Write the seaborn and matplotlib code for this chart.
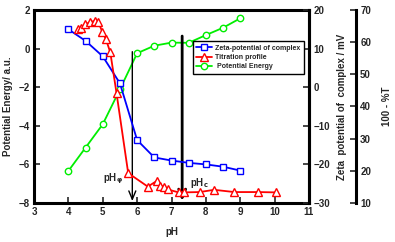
import matplotlib
matplotlib.use("Agg")
import matplotlib.pyplot as plt
import seaborn as sns
import pandas as pd

# ---- data ----
ph_grid = [4.0, 4.5, 5.0, 5.5, 6.0, 6.5, 7.0, 7.5, 8.0, 8.5, 9.0]
zeta_mv = [15.0, 12.0, 8.0, 1.0, -13.7, -18.2, -19.0, -19.6, -20.0, -20.6, -21.6]
energy_au = [-6.34, -5.13, -3.92, -2.11, -0.24, 0.15, 0.31, 0.30, 0.70, 1.08, 1.57]

ph_titr = [4.27, 4.37, 4.49, 4.63, 4.76, 4.87, 4.99, 5.09, 5.22, 5.40, 5.74,
           6.31, 6.58, 6.66, 6.78, 6.89, 7.21, 7.36, 7.82, 8.24, 8.83, 9.51, 10.04]
titr_T = [64.0, 64.4, 65.5, 66.2, 66.6, 66.3, 63.1, 61.0, 56.8, 44.2, 19.3,
          15.1, 16.9, 15.4, 15.1, 14.2, 13.3, 13.3, 13.4, 14.1, 13.4, 13.4, 13.3]

marker_ph = [5.86, 7.31]
marker_top = [-0.16, 0.65]
marker_labels = ["pH$_\\mathbf{\\varphi}$", "pH$_\\mathbf{c}$"]

x_ticks = [3, 4, 5, 6, 7, 8, 9, 10, 11]
left_ticks = [-8, -6, -4, -2, 0, 2]
zeta_ticks = [-30, -20, -10, 0, 10, 20]
t_ticks = [10, 20, 30, 40, 50, 60, 70]

sns.set_style("ticks")
plt.rcParams['font.family'] = ['Liberation Sans', 'DejaVu Sans']
plt.rcParams['font.weight'] = 'bold'
plt.rcParams['mathtext.default'] = 'bf'

W, H = 395, 242
fig = plt.figure(figsize=(W / 100, H / 100), dpi=100)
L, R, T, B = 34, 309, 10, 203
ax = fig.add_axes([L / W, 1 - B / H, (R - L) / W, (B - T) / H])
ax2 = ax.twinx()
ax3 = ax.twinx()

fs = 7
ms = 4.6
lw = 1.3
mew = 1.0

blue = '#0000ff'
red = '#ff0000'
green = '#00ee00'

df_g = pd.DataFrame({'pH': ph_grid, 'zeta': zeta_mv, 'energy': energy_au})
df_t = pd.DataFrame({'pH': ph_titr, 'T': titr_T})

sns.lineplot(data=df_g, x='pH', y='energy', ax=ax, color=green, marker='o',
             markersize=ms, markerfacecolor='white', markeredgecolor=green,
             markeredgewidth=mew, linewidth=lw, sort=False, legend=False)
sns.lineplot(data=df_g, x='pH', y='zeta', ax=ax2, color=blue, marker='s',
             markersize=ms, markerfacecolor='white', markeredgecolor=blue,
             markeredgewidth=mew, linewidth=lw, sort=False, legend=False)
sns.lineplot(data=df_t, x='pH', y='T', ax=ax3, color=red, marker='^',
             markersize=ms + 0.5, markerfacecolor='white', markeredgecolor=red,
             markeredgewidth=mew, linewidth=lw, sort=False, legend=False)

ax.set_xlim(3, 11)
ax.set_ylim(-8, 2)
ax2.set_ylim(-30, 20)
ax3.set_ylim(10, 70)

ax.set_xticks(x_ticks)
ax.set_yticks(left_ticks)
ax2.set_yticks(zeta_ticks)
ax3.set_yticks(t_ticks)

for a in (ax, ax2, ax3):
    for s in a.spines.values():
        s.set_linewidth(2.2)
        s.set_color('black')

ax.tick_params(axis='both', direction='in', length=4, width=1.2, labelsize=fs, pad=3)
ax2.tick_params(axis='y', direction='in', length=4, width=1.2, labelsize=fs, pad=3)
ax3.tick_params(axis='y', direction='in', length=4, width=1.2, labelsize=fs, pad=3)

ax3.spines['right'].set_position(('axes', 1 + 47 / (R - L)))
for side in ('left', 'top', 'bottom'):
    ax3.spines[side].set_visible(False)
    ax2.spines[side].set_visible(False)

ax.set_xlabel('pH', fontsize=fs, fontweight='bold', labelpad=7)
ax.set_ylabel('Potential Energy/ a.u.', fontsize=fs, fontweight='bold', labelpad=4)
ax2.set_ylabel('Zeta  potential of  complex / mV', fontsize=fs, fontweight='bold', labelpad=5)
ax3.set_ylabel('100 - %T', fontsize=fs, fontweight='bold', labelpad=8)

for a in (ax, ax2, ax3):
    for lab in a.get_xticklabels() + a.get_yticklabels():
        lab.set_fontweight('bold')

# vertical marker lines with arrows
lws = [1.0, 2.0]
for xp, yt, w in zip(marker_ph, marker_top, lws):
    ax.annotate('', xy=(xp, -7.9), xytext=(xp, yt),
                arrowprops=dict(arrowstyle='->,head_length=0.6,head_width=0.25',
                                color='black', lw=w, shrinkA=0, shrinkB=0),
                zorder=5)
ax.text(5.0, -6.75, marker_labels[0], fontsize=fs, fontweight='bold', va='center', ha='left')
ax.text(7.55, -6.95, marker_labels[1], fontsize=fs, fontweight='bold', va='center', ha='left')

# legend
h1 = ax2.lines[0]
h2 = ax3.lines[0]
h3 = ax.lines[0]
leg = ax3.legend([h1, h2, h3], ['Zeta-potential of complex', 'Titration profile', ' Potential Energy'],
                 loc='upper left', bbox_to_anchor=(0.578, 0.839), borderaxespad=0,
                 frameon=True, fancybox=False, framealpha=1,
                 edgecolor='black', handlelength=2.2, handletextpad=0.5,
                 labelspacing=0.35, borderpad=0.5,
                 prop={'size': 5, 'weight': 'bold'})
leg.get_frame().set_linewidth(1.0)

fig.savefig('out.png', dpi=100)
